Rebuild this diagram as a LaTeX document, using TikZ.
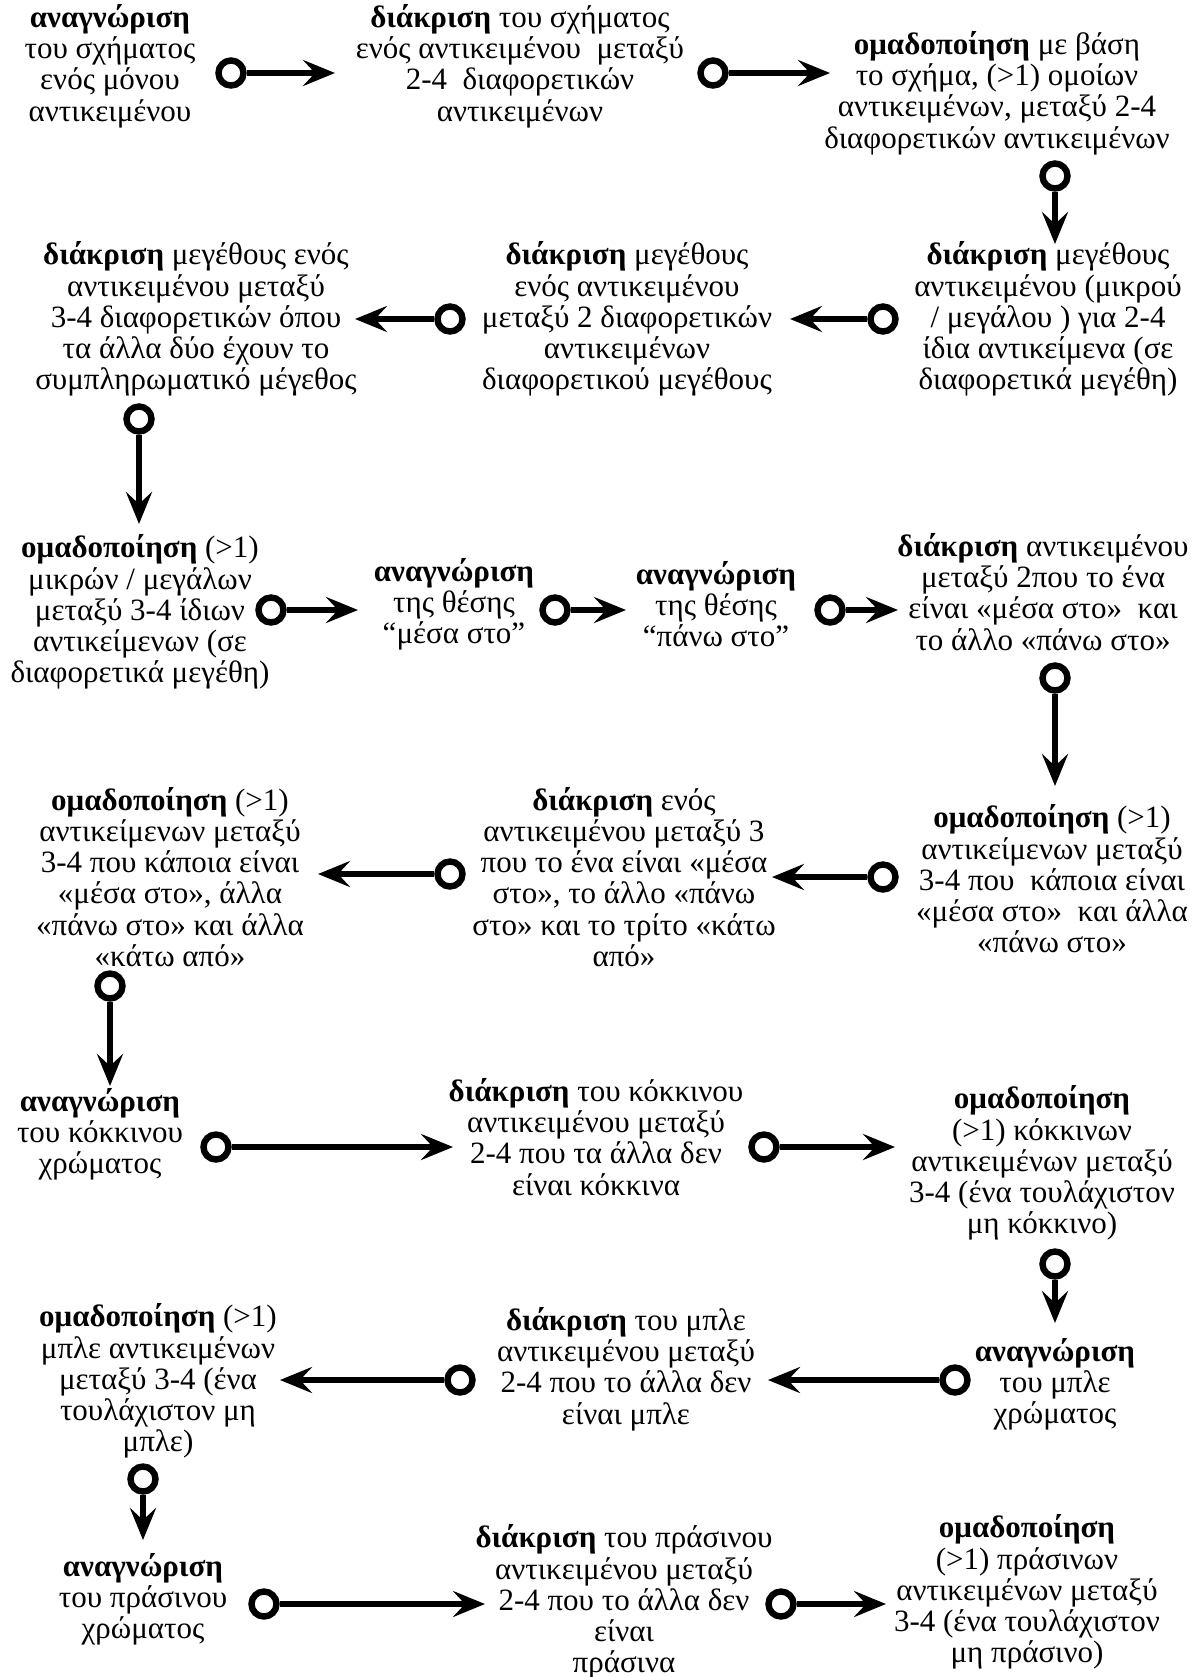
\documentclass[tikz,border=0pt]{standalone}
\usepackage{fontspec}
\setmainfont{Liberation Serif}
\usetikzlibrary{arrows.meta}
\tikzset{
  txt/.style={align=center, inner sep=0pt, font=\fontsize{15.5}{15.6}\selectfont},
  ring/.style={circle, draw, line width=3.2pt, fill=white, minimum size=12.5pt, inner sep=0pt},
  conn/.style={line width=3pt, -{Stealth[length=16pt,width=13pt,inset=6pt]}},
}
\begin{document}
\begin{tikzpicture}[x=0.5pt,y=-0.5pt]
\useasboundingbox (0,0) rectangle (1198,1677);
% nodes
\node[txt] (n1) at (110,66) {\textbf{αναγνώριση}\\του σχήματος\\ενός μόνου\\αντικειμένου};
\node[txt] (n2) at (520,66) {\textbf{διάκριση} του σχήματος\\ενός αντικειμένου \ μεταξύ\\2-4 \ διαφορετικών\\αντικειμένων};
\node[txt] (n3) at (997,93) {\textbf{ομαδοποίηση} με βάση\\το σχήμα, (>1) ομοίων\\αντικειμένων, μεταξύ 2-4\\διαφορετικών αντικειμένων};
\node[txt] (n4) at (1048,319) {\textbf{διάκριση} μεγέθους\\αντικειμένου (μικρού\\/ μεγάλου ) για 2-4\\ίδια αντικείμενα (σε\\διαφορετικά μεγέθη)};
\node[txt] (n5) at (627,319) {\textbf{διάκριση} μεγέθους\\ενός αντικειμένου\\μεταξύ 2 διαφορετικών\\αντικειμένων\\διαφορετικού μεγέθους};
\node[txt] (n6) at (196,319) {\textbf{διάκριση} μεγέθους ενός\\αντικειμένου μεταξύ\\3-4 διαφορετικών όπου\\τα άλλα δύο έχουν το\\συμπληρωματικό μέγεθος};
\node[txt] (n7) at (140,612) {\textbf{ομαδοποίηση} (>1)\\μικρών / μεγάλων\\μεταξύ 3-4 ίδιων\\αντικείμενων (σε\\διαφορετικά μεγέθη)};
\node[txt] (n8) at (454,604) {\textbf{αναγνώριση}\\της θέσης\\“μέσα στο”};
\node[txt] (n9) at (716,604) {\textbf{αναγνώριση}\\της θέσης\\“πάνω στο”};
\node[txt] (n10) at (1043,592) {\textbf{διάκριση} αντικειμένου\\μεταξύ 2που το ένα\\είναι «μέσα στο» \ και\\το άλλο «πάνω στο»};
\node[txt] (n11) at (1052,879) {\textbf{ομαδοποίηση} (>1)\\αντικείμενων μεταξύ\\3-4 που \ κάποια είναι\\«μέσα στο» \ και άλλα\\«πάνω στο»};
\node[txt] (n12) at (624,877) {\textbf{διάκριση} ενός\\αντικειμένου μεταξύ 3\\που το ένα είναι «μέσα\\στο», το άλλο «πάνω\\στο» και το τρίτο «κάτω\\από»};
\node[txt] (n13) at (170,877) {\textbf{ομαδοποίηση} (>1)\\αντικείμενων μεταξύ\\3-4 που κάποια είναι\\«μέσα στο», άλλα\\«πάνω στο» και άλλα\\«κάτω από»};
\node[txt] (n14) at (100,1134) {\textbf{αναγνώριση}\\του κόκκινου\\χρώματος};
\node[txt] (n15) at (596,1137) {\textbf{διάκριση} του κόκκινου\\αντικειμένου μεταξύ\\2-4 που τα άλλα δεν\\είναι κόκκινα};
\node[txt] (n16) at (1042,1163) {\textbf{ομαδοποίηση}\\(>1) κόκκινων\\αντικειμένων μεταξύ\\3-4 (ένα τουλάχιστον\\μη κόκκινο)};
\node[txt] (n17) at (1055,1384) {\textbf{αναγνώριση}\\του μπλε\\χρώματος};
\node[txt] (n18) at (626,1369) {\textbf{διάκριση} του μπλε\\αντικειμένου μεταξύ\\2-4 που το άλλα δεν\\είναι μπλε};
\node[txt] (n19) at (158,1381) {\textbf{ομαδοποίηση} (>1)\\μπλε αντικειμένων\\μεταξύ 3-4 (ένα\\τουλάχιστον μη\\μπλε)};
\node[txt] (n20) at (143,1599) {\textbf{αναγνώριση}\\του πράσινου\\χρώματος};
\node[txt] (n21) at (624,1602) {\textbf{διάκριση} του πράσινου\\αντικειμένου μεταξύ\\2-4 που το άλλα δεν\\είναι\\πράσινα};
\node[txt] (n22) at (1027,1592) {\textbf{ομαδοποίηση}\\(>1) πράσινων\\αντικειμένων μεταξύ\\3-4 (ένα τουλάχιστον\\μη πράσινο)};
% rings and tips
\foreach \i/\rx/\ry/\tx/\ty in {
 1/231/73/335/73, 2/713/73/830/73, 3/1055/176/1055/244,
 4/883/319/790/319, 5/450/319/355/319, 6/139/419/139/524,
 7/271/610/358/610, 8/555/610/626/610, 9/830/610/898/610,
 10/1055/678/1055/786, 11/883/877/772/877, 12/450/874/318/874,
 13/110/986/110/1086, 14/216/1147/453/1147, 15/764/1147/895/1147,
 16/1055/1264/1055/1323, 17/955/1380/768/1380, 18/460/1380/280/1380,
 19/143/1479/143/1540, 20/264/1604/485/1604, 21/781/1604/886/1604}
{
  \node[ring] (r\i) at (\rx,\ry) {};
  \coordinate (t\i) at (\tx,\ty);
  \draw[conn] (r\i) -- (t\i);
}
\end{tikzpicture}
\end{document}
